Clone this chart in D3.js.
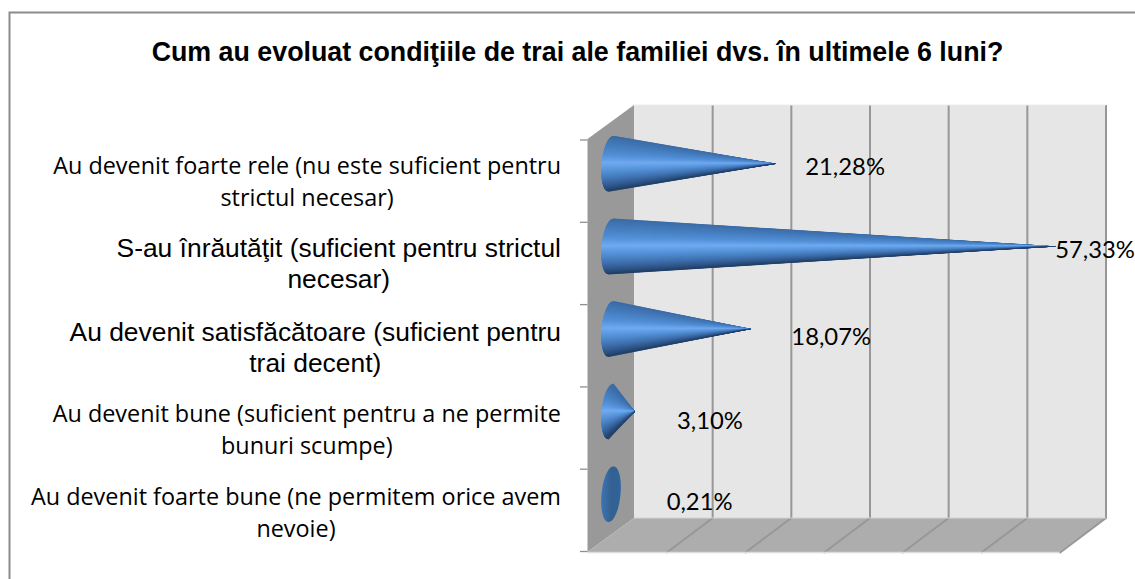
<!DOCTYPE html>
<html>
<head>
<meta charset="utf-8">
<script src="https://cdn.jsdelivr.net/npm/d3@7"></script>
<style>
html,body{margin:0;padding:0;background:#fff;overflow:hidden}
svg{display:block}
</style>
</head>
<body>
<svg id="chart" width="1135" height="579"></svg>
<script>
const titleText = "Cum au evoluat condiţiile de trai ale familiei dvs. în ultimele 6 luni?";
const categories = [
  "Au devenit foarte rele (nu este suficient pentru|strictul necesar)",
  "S-au înrăutăţit (suficient pentru strictul|necesar)",
  "Au devenit satisfăcătoare (suficient pentru|trai decent)",
  "Au devenit bune (suficient pentru a ne permite|bunuri scumpe)",
  "Au devenit foarte bune (ne permitem orice avem|nevoie)"
];
const values = [21.28, 57.33, 18.07, 3.10, 0.21];
const valueLabels = ["21,28%", "57,33%", "18,07%", "3,10%", "0,21%"];
const axisMax = 60;

// layout and style (not data)
const W = 1135, H = 579;
const wall = {left:634, right:1106, top:105, bottom:518, dx:46.5, dy:34};
const arialRows = new Set([1,2]);
const labelNudge = [[29,3.5],[-1,4.5],[40,8],[42,10],[54,8]];
const catBaselineNudge = [1,1,2,1,1];

const svg = d3.select("#chart");
const defs = svg.append("defs");

const xWall = d3.scaleLinear().domain([0,axisMax]).range([wall.left, wall.right]);
const xCone = d3.scaleLinear().domain([0,axisMax]).range([611, 1077]);
const yBand = d3.scaleBand().domain(d3.range(categories.length)).range([122.5,535.5]);
const yFront = d3.scaleBand().domain(d3.range(categories.length)).range([140,551.5]);
const gridTicks = xWall.ticks(6);

// outer border (runs off the right and bottom of the picture)
svg.append("path").attr("d",`M9.5,${H} V12.5 H${W}`).attr("fill","none")
  .attr("stroke","#8c8c8c").attr("stroke-width",2);

// title
svg.append("text").attr("x",577.5).attr("y",61).attr("text-anchor","middle")
  .attr("font-family","'Liberation Sans',Arial,sans-serif").attr("font-weight","bold")
  .attr("font-size",26.8).attr("fill","#000").text(titleText);

// walls
const poly = pts => "M"+pts.map(p=>p.join(",")).join("L")+"Z";
svg.append("path").attr("d",poly([[wall.left,wall.top],[wall.right,wall.top],[wall.right,wall.bottom],[wall.left,wall.bottom]])).attr("fill","#e6e6e6");
svg.append("path").attr("d",poly([[wall.left,wall.top],[wall.left,wall.bottom],[wall.left-wall.dx,wall.bottom+wall.dy],[wall.left-wall.dx,wall.top+wall.dy]])).attr("fill","#999999");
svg.append("path").attr("d",poly([[wall.left,wall.bottom],[wall.right,wall.bottom],[wall.right-wall.dx,wall.bottom+wall.dy],[wall.left-wall.dx,wall.bottom+wall.dy]])).attr("fill","#adadad");

// gridlines on back wall + floor
const grid = svg.append("g").attr("fill","none").attr("stroke","#979797").attr("stroke-width",2);
grid.selectAll("path.g").data(gridTicks.slice(1)).join("path").attr("class","g")
  .attr("d",d=>`M${xWall(d)},${wall.top} V${wall.bottom} L${xWall(d)-wall.dx},${wall.bottom+wall.dy+1}`);
svg.append("line").attr("x1",wall.left-wall.dx).attr("x2",wall.right-wall.dx)
  .attr("y1",wall.bottom+wall.dy+.5).attr("y2",wall.bottom+wall.dy+.5)
  .attr("stroke","#dcdcdc").attr("stroke-width",1.5);
svg.append("line").attr("x1",wall.left).attr("x2",wall.right).attr("y1",wall.bottom).attr("y2",wall.bottom)
  .attr("stroke","#d4d4d4").attr("stroke-width",1);
svg.append("line").attr("x1",wall.left).attr("x2",wall.right).attr("y1",wall.top).attr("y2",wall.top)
  .attr("stroke","#ececec").attr("stroke-width",1);

// category ticks
const tickYs = categories.map((_,i)=>yFront(i)).concat([yFront.range()[1]]);
svg.append("g").selectAll("line").data(tickYs).join("line")
  .attr("x1",580).attr("x2",wall.left-wall.dx).attr("y1",d=>d).attr("y2",d=>d)
  .attr("stroke","#8f8f8f").attr("stroke-width",1.3);

// cones
const shade = d3.scaleLinear()
  .domain([-1,-.72,-.3,-.02,.3,.62,.88,1])
  .range(["#3a6aa5","#4379b8","#5290d8","#70aaf0","#5290d6","#3f70ae","#2b5182","#203d63"]);
const rx = 9.5, ry = 28, lean = 2.5;
const stripV = d3.range(-1,1.0001,0.04);
const cones = svg.append("g");
values.forEach((v,i)=>{
  const cx = xCone(0), cy = yBand(i)+yBand.bandwidth()/2, tipX = xCone(v);
  const P = (t,side=-1)=>[cx-lean*t+side*rx*Math.sqrt(Math.max(0,1-t*t)), cy+ry*t];
  if (tipX > cx + rx) {
    const outline = poly(stripV.map(t=>P(t)).concat([[tipX,cy]]));
    defs.append("clipPath").attr("id","cone"+i).append("path").attr("d",outline);
    const g = cones.append("g").attr("clip-path",`url(#cone${i})`);
    g.selectAll("path").data(d3.pairs(stripV)).join("path")
      .attr("d",([a,b])=>poly([P(a),P(b),[tipX,cy]]))
      .attr("fill",([a,b])=>shade((a+b)/2))
      .attr("stroke",([a,b])=>shade((a+b)/2))
      .attr("stroke-width",1);
  } else {
    const id = "base"+i;
    const gr = defs.append("linearGradient").attr("id",id);
    gr.append("stop").attr("offset",0).attr("stop-color","#3c75b4");
    gr.append("stop").attr("offset",.55).attr("stop-color","#33608f");
    gr.append("stop").attr("offset",1).attr("stop-color","#2f649f");
    const pts = stripV.map(t=>P(t,-1)).concat(stripV.slice().reverse().map(t=>P(t,1)));
    cones.append("path").attr("d",poly(pts)).attr("fill",`url(#${id})`);
  }
});

// value labels
svg.append("g").selectAll("text").data(values).join("text")
  .attr("x",(d,i)=>xCone(d)+labelNudge[i][0])
  .attr("y",(d,i)=>yBand(i)+yBand.bandwidth()/2+labelNudge[i][1]+7.5)
  .attr("font-family","Lato,'Open Sans',sans-serif").attr("font-size",23.8).attr("fill","#000")
  .text((d,i)=>valueLabels[i]);

// category labels
const catG = svg.append("g");
categories.forEach((c,i)=>{
  const [l1,l2] = c.split("|");
  const arial = arialRows.has(i);
  const fam = arial ? "'Liberation Sans',Arial,sans-serif" : "'Open Sans',sans-serif";
  const fs = arial ? 26.4 : 23.4;
  const base = yBand(i)+yBand.bandwidth()/2 + 9.5 + catBaselineNudge[i];
  const t1 = catG.append("text").attr("x",561).attr("y",base).attr("text-anchor","end")
    .attr("font-family",fam).attr("font-size",fs).attr("fill","#000").text(l1);
  const w = t1.node().getComputedTextLength();
  catG.append("text").attr("x",561-w/2).attr("y",base+(arial?31:32)).attr("text-anchor","middle")
    .attr("font-family",fam).attr("font-size",fs).attr("fill","#000").text(l2);
});
</script>
</body>
</html>
